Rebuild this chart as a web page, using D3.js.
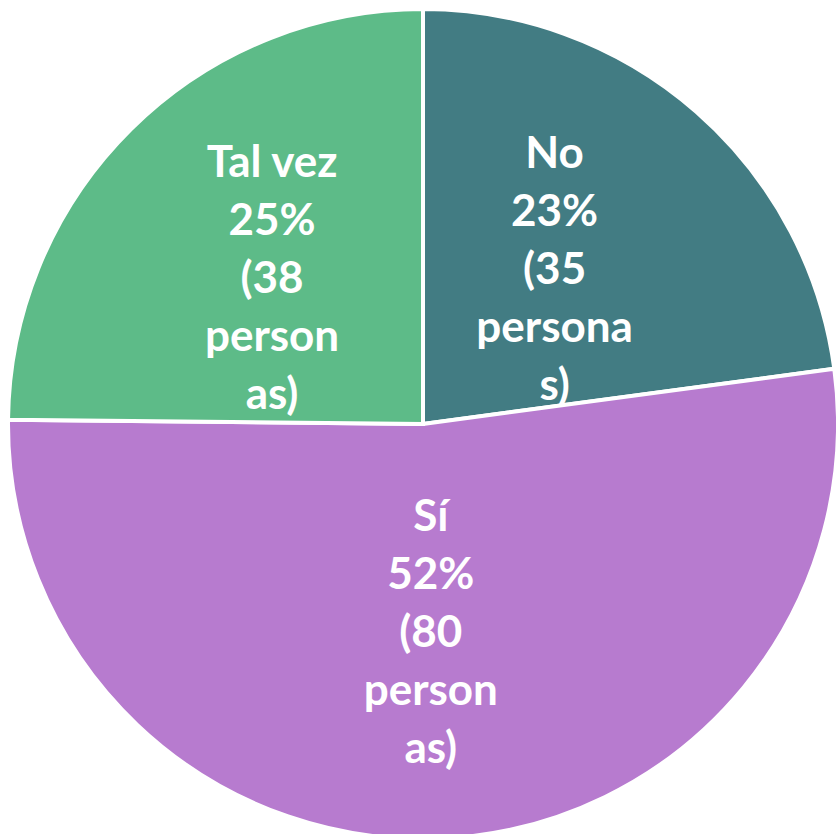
<!DOCTYPE html>
<html>
<head>
<meta charset="utf-8">
<script src="https://cdn.jsdelivr.net/npm/d3@7"></script>
<style>
  body { margin: 0; background: #fff; }
  .slice-label { font-family: Lato, "Open Sans", sans-serif; font-weight: bold; fill: #fff; }
</style>
</head>
<body>
<svg id="chart"></svg>
<script>
const width = 836, height = 834
const categories = ['No', 'Sí', 'Tal vez']
const values = [35, 80, 38]
const colors = ['#427C83', '#B77BCF', '#5DBB88']
// donde el texto se parte en la ultima palabra
const breakAt = [7, 6, 6]

const cx = 423, cy = 424, radius = 415

const svg = d3.select('#chart')
    .attr('width', width)
    .attr('height', height)

const g = svg.append('g')
    .attr('transform', 'translate(' + cx + ',' + cy + ')')

const total = d3.sum(values)
const data = categories.map((c, i) => ({name: c, value: values[i], color: colors[i], brk: breakAt[i]}))

const pie = d3.pie().sort(null).value(d => d.value)
const arc = d3.arc().innerRadius(0).outerRadius(radius)
const labelArc = d3.arc().innerRadius(radius * 0.5).outerRadius(radius * 0.5)

const arcs = pie(data)

g.selectAll('path')
    .data(arcs)
    .enter()
    .append('path')
    .attr('d', arc)
    .style('fill', d => d.data.color)
    .style('stroke', '#fff')
    .style('stroke-width', 4)

const lineH = 58

g.selectAll('text')
    .data(arcs)
    .enter()
    .append('text')
    .attr('class', 'slice-label')
    .attr('text-anchor', 'middle')
    .style('font-size', '44px')
    .each(function (d) {
        const c = labelArc.centroid(d)
        const word = 'personas)'
        const lines = [
            d.data.name,
            Math.round(d.data.value / total * 100) + '%',
            '(' + d.data.value,
            word.slice(0, d.data.brk),
            word.slice(d.data.brk)
        ]
        const t = d3.select(this)
        lines.forEach((l, i) => {
            t.append('tspan')
                .attr('x', c[0] - 5)
                .attr('y', c[1] + (i - 2) * lineH + 16)
                .text(l)
        })
    })
</script>
</body>
</html>
